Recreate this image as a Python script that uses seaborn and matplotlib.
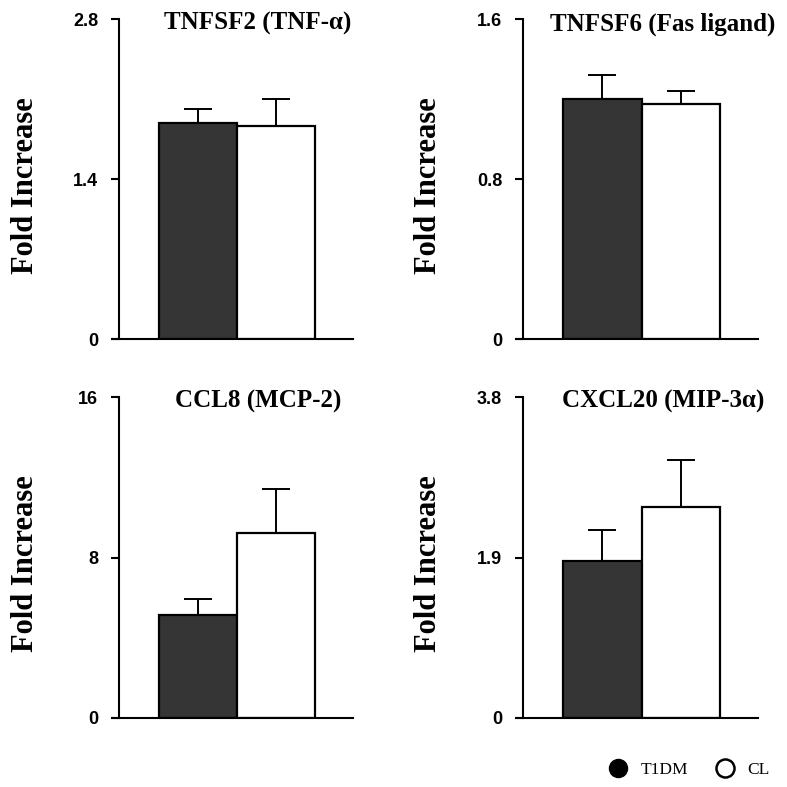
import numpy as np
import pandas as pd
import matplotlib
matplotlib.use("Agg")
import matplotlib.pyplot as plt
import seaborn as sns
from matplotlib.lines import Line2D
from matplotlib.font_manager import FontProperties
from matplotlib.transforms import blended_transform_factory

sns.set_style("white")
plt.rcParams["text.color"] = "black"
plt.rcParams["axes.labelcolor"] = "black"

groups = ["T1DM", "CL"]
titles = ["TNFSF2 (TNF-\u03b1)", "TNFSF6 (Fas ligand)", "CCL8 (MCP-2)", "CXCL20 (MIP-3\u03b1)"]
means = [[1.89, 1.86], [1.20, 1.175], [5.11, 9.2], [1.86, 2.50]]
errors = [[0.12, 0.24], [0.12, 0.063], [0.80, 2.23], [0.37, 0.55]]
yticks = [[0, 1.4, 2.8], [0, 0.8, 1.6], [0, 8, 16], [0, 1.9, 3.8]]
ytick_labels = [["0", "1.4", "2.8"], ["0", "0.8", "1.6"], ["0", "8", "16"], ["0", "1.9", "3.8"]]
colors = {"T1DM": "#353535", "CL": "#ffffff"}

W = 787.0
# axes boxes in pixels: left, top, right, bottom
boxes = [(112, 19, 353, 339), (516, 19, 758, 339),
         (112, 397, 353, 718), (516, 397, 758, 718)]

tick_font = FontProperties(family="Liberation Sans", weight="bold", size=13)

fig = plt.figure(figsize=(7.87, 7.87), dpi=100)
fig.patch.set_facecolor("white")

for i in range(4):
    l, t, r, b = boxes[i]
    ax = fig.add_axes([l / W, 1 - b / W, (r - l) / W, (b - t) / W])
    df = pd.DataFrame({"group": groups, "value": means[i]})
    sns.barplot(data=df, x="group", y="value", hue="group", order=groups,
                palette=colors, width=1.0, edgecolor="black", linewidth=1.6,
                errorbar=None, legend=False, ax=ax)
    ax.errorbar([0, 1], means[i], yerr=[[0, 0], errors[i]], fmt="none",
                ecolor="black", elinewidth=1.4, capsize=10, capthick=1.4)
    ax.set_xlim(-1.103, 1.987)
    ax.set_ylim(0, yticks[i][-1])
    ax.set_xticks([])
    ax.set_xlabel("")
    ax.set_facecolor("white")
    for s in ["top", "right"]:
        ax.spines[s].set_visible(False)
    ax.spines["left"].set_position(("data", -1.013))
    for s in ["left", "bottom"]:
        ax.spines[s].set_linewidth(1.5)
        ax.spines[s].set_color("black")
    ax.tick_params(axis="y", direction="out", length=6, width=1.5,
                   left=True, pad=9, colors="black")
    ax.set_yticks(yticks[i])
    ax.set_yticklabels(ytick_labels[i])
    for lbl in ax.get_yticklabels():
        lbl.set_fontproperties(tick_font)
    ax.set_ylabel("Fold Increase", fontfamily="Liberation Serif",
                  fontweight="bold", fontsize=22, color="black")
    ax.yaxis.set_label_coords(-0.30, 0.48)
    trans = blended_transform_factory(ax.transData, ax.transAxes)
    ax.text(0.77, 0.985, titles[i], transform=trans, ha="center", va="center",
            fontfamily="Liberation Serif", fontweight="bold", fontsize=18,
            color="black")

handles = [Line2D([], [], marker="o", linestyle="none", markersize=13,
                  markerfacecolor="black", markeredgecolor="black", label="T1DM"),
           Line2D([], [], marker="o", linestyle="none", markersize=13,
                  markerfacecolor="white", markeredgecolor="black",
                  markeredgewidth=1.8, label="CL")]
fig.legend(handles=handles, loc="center", bbox_to_anchor=(685 / W, 1 - 770 / W),
           ncol=2, frameon=False, handletextpad=0.3, columnspacing=1.1,
           prop={"family": "Liberation Serif", "size": 12.5})

fig.savefig("out.png", dpi=100, facecolor="white")
